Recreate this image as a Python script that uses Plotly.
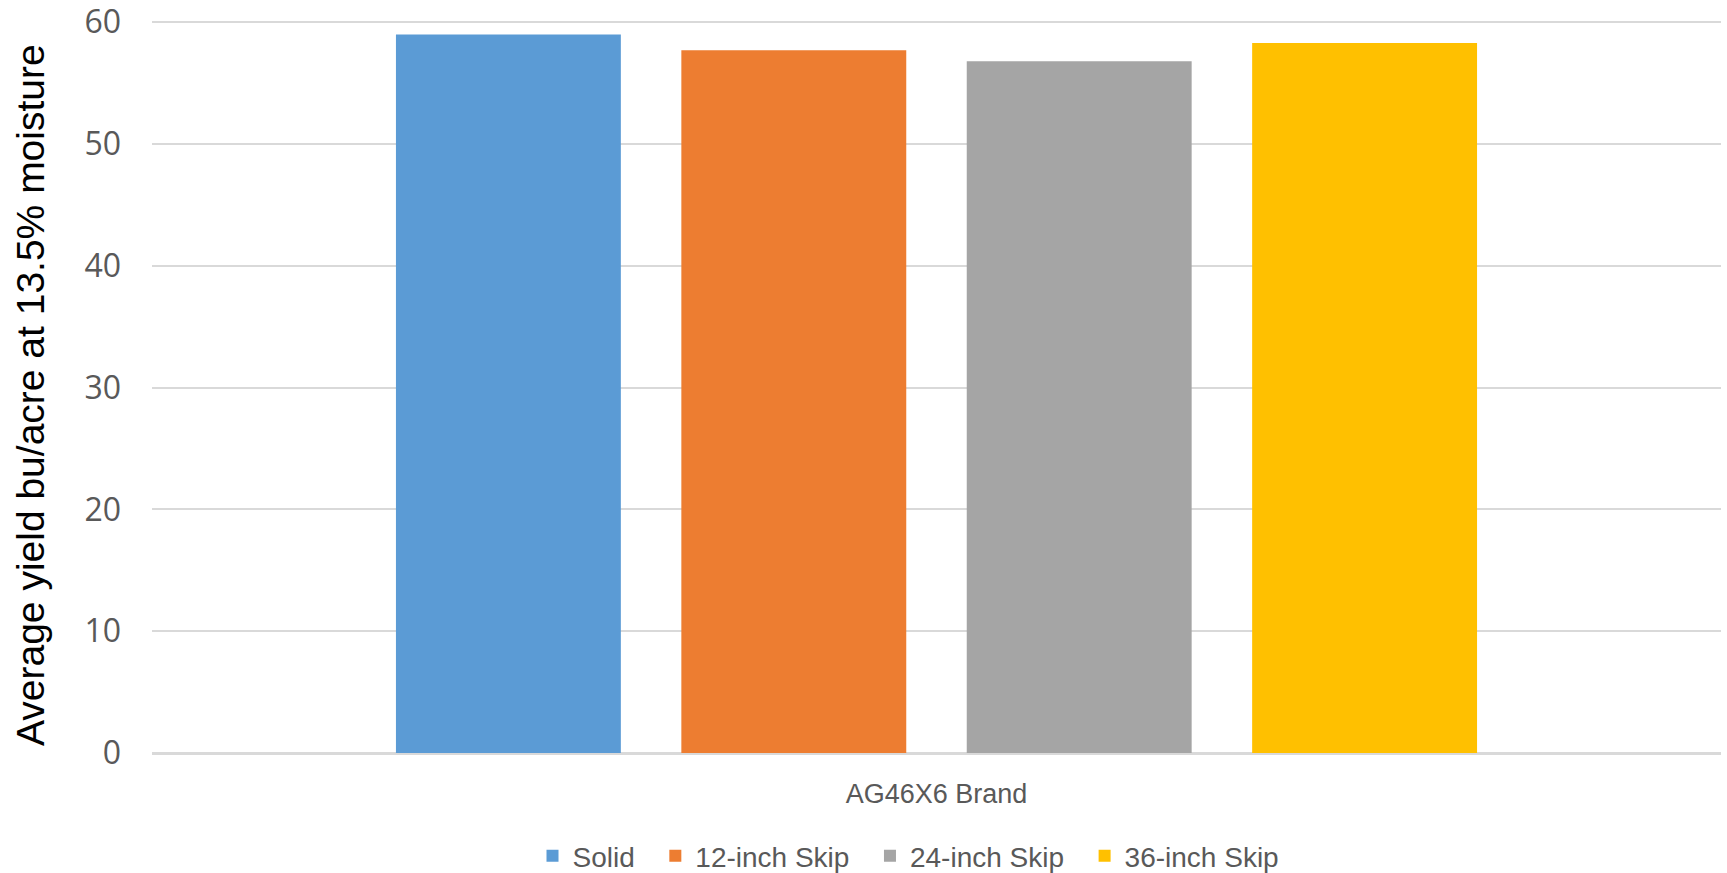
import plotly.graph_objects as go

categories = ["AG46X6 Brand"]
series_names = ["Solid", "12-inch Skip", "24-inch Skip", "36-inch Skip"]
series_values = [[59.0], [57.7], [56.8], [58.3]]
colors = ["#5B9BD5", "#ED7D31", "#A5A5A5", "#FFC000"]
y_ticks = [0, 10, 20, 30, 40, 50, 60]

W, H = 1727, 873
ML, MR, MT, MB = 152, 6, 21, 120

fig = go.Figure()
for name, vals, c in zip(series_names, series_values, colors):
    fig.add_trace(go.Bar(name=name + "\u00a0\u00a0", x=categories, y=vals,
                         marker=dict(color=c, line=dict(width=0))))

plot_w = W - ML - MR
plot_h = H - MT - MB

fig.update_layout(
    width=W, height=H,
    margin=dict(l=ML, r=MR, t=MT, b=MB, pad=0, autoexpand=False),
    paper_bgcolor="white", plot_bgcolor="white",
    barmode="group", bargap=0.2724, bargroupgap=0.212,
    showlegend=True,
    legend=dict(orientation="h", x=(916 - ML) / plot_w, xanchor="center",
                y=(MT + plot_h - 856) / plot_h, yanchor="middle",
                font=dict(family="Liberation Sans, sans-serif", size=28, color="#595959"),
                itemwidth=30, tracegroupgap=0, traceorder="normal"),
    font=dict(family="Open Sans, sans-serif"),
)
fig.update_yaxes(range=[0, 60.1], tickvals=y_ticks, showgrid=True, gridcolor="#D9D9D9", gridwidth=1.5,
                 zeroline=True, zerolinecolor="#D9D9D9", zerolinewidth=2.5,
                 tickfont=dict(family="Open Sans, sans-serif", size=32, color="#595959"),
                 ticklabelstandoff=30, ticklabeloverflow="allow", showline=False, fixedrange=True)
fig.update_xaxes(showgrid=False, showline=False, ticks="",
                 tickfont=dict(family="Liberation Sans, sans-serif", size=27, color="#595959"),
                 ticklabelstandoff=22, ticklabeloverflow="allow")
fig.add_annotation(text="Average yield bu/acre at 13.5% moisture", xref="paper", yref="paper",
                   x=(30 - ML) / plot_w, y=(753 - 395) / plot_h, xanchor="center", yanchor="middle",
                   textangle=-90, showarrow=False,
                   font=dict(family="Liberation Sans, sans-serif", size=39, color="#000000"))

fig.write_html("out.html")
